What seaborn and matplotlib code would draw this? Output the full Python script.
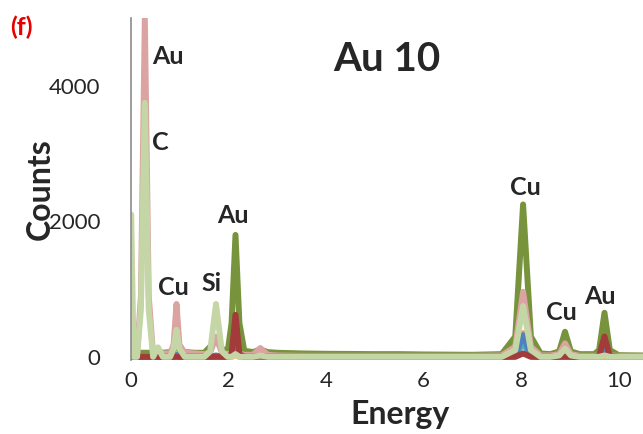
import pandas as pd
import seaborn as sns
import matplotlib.pyplot as plt

# Energy grid (keV) shared by all spectra
energy = [0, 0.05, 0.12, 0.2, 0.28, 0.36, 0.45, 0.55, 0.65, 0.8,
          0.87, 0.93, 0.99, 1.1, 1.3, 1.5, 1.62, 1.74, 1.86, 1.98,
          2.06, 2.14, 2.22, 2.32, 2.5, 2.65, 2.8, 3.0, 3.5, 4.0,
          5.0, 5.5, 6.0, 7.0, 7.6, 7.88, 8.04, 8.2, 8.4, 8.6,
          8.78, 8.9, 9.02, 9.2, 9.5, 9.6, 9.71, 9.82, 10.0, 10.5]

# Counts, one list per spectrum
dark_green = [0, 0, 20, 60, 60, 60, 60, 80, 60, 70,
              100, 200, 100, 70, 60, 60, 150, 250, 120, 80,
              500, 1800, 500, 90, 70, 110, 70, 60, 50, 45,
              40, 40, 35, 30, 40, 300, 2250, 300, 50, 40,
              80, 370, 80, 40, 40, 100, 650, 100, 25, 20]
pink = [0, 0, 20, 900, 5000, 900, 40, 90, 50, 50,
        180, 780, 180, 60, 50, 40, 60, 300, 60, 40,
        50, 150, 50, 30, 30, 130, 30, 20, 15, 15,
        15, 15, 15, 15, 20, 150, 960, 150, 20, 20,
        40, 200, 40, 15, 15, 20, 100, 20, 15, 15]
light_green = [2100, 0, 0, 700, 3750, 700, 0, 140, 0, 0,
               120, 400, 120, 0, 0, 0, 80, 780, 80, 0,
               0, 40, 0, 0, 0, 20, 0, 0, 0, 0,
               0, 0, 0, 0, 0, 100, 750, 100, 0, 0,
               20, 120, 20, 0, 0, 0, 20, 0, 0, 0]
dark_red = [0, 0, 0, 0, 0, 0, 0, 0, 0, 0,
            0, 0, 0, 0, 0, 0, 0, 0, 0, 0,
            40, 620, 40, 0, 0, 10, 0, 0, 0, 0,
            0, 0, 0, 0, 0, 0, 50, 0, 0, 0,
            0, 0, 0, 0, 0, 10, 300, 10, 0, 0]
blue = [0, 0, 0, 0, 0, 0, 0, 0, 0, 0,
        0, 30, 0, 0, 0, 0, 0, 20, 0, 0,
        20, 200, 20, 0, 0, 10, 0, 0, 0, 0,
        0, 0, 0, 0, 0, 20, 320, 20, 0, 0,
        0, 50, 0, 0, 0, 0, 80, 0, 0, 0]
light_blue = [0, 0, 0, 0, 0, 0, 0, 0, 0, 0,
              0, 30, 0, 0, 0, 0, 0, 10, 0, 0,
              10, 100, 10, 0, 0, 0, 0, 0, 0, 0,
              0, 0, 0, 0, 0, 10, 200, 10, 0, 0,
              0, 30, 0, 0, 0, 0, 40, 0, 0, 0]
orange = [0, 0, 0, 0, 0, 0, 0, 0, 0, 0,
          0, 0, 0, 0, 0, 0, 0, 0, 0, 0,
          0, 30, 0, 0, 0, 0, 0, 0, 0, 0,
          0, 0, 0, 0, 0, 10, 350, 10, 0, 0,
          0, 0, 0, 0, 0, 0, 0, 0, 0, 0]

# drawing order: back to front
series = {
    "dark_green": (dark_green, "#77933C"),
    "pink": (pink, "#DBA3A1"),
    "orange": (orange, "#F79646"),
    "light_blue": (light_blue, "#4BACC6"),
    "blue": (blue, "#4F81BD"),
    "dark_red": (dark_red, "#A33B3A"),
    "light_green": (light_green, "#C5D6A6"),
}

# Peak labels: text, energy, counts
peak_text = ["Au", "C", "Cu", "Si", "Au", "Cu", "Cu", "Au"]
peak_x = [0.76, 0.6, 0.86, 1.64, 2.09, 8.09, 8.83, 9.61]
peak_y = [4430, 3160, 1030, 1090, 2080, 2500, 650, 890]

rows = []
for name, (vals, _) in series.items():
    for e, c in zip(energy, vals):
        rows.append({"Energy": e, "Counts": c, "series": name})
df = pd.DataFrame(rows)

sns.set_style("white")
plt.rcParams["font.family"] = ["Lato", "DejaVu Sans"]

fig = plt.figure(figsize=(6.43, 4.34), dpi=100)
ax = fig.add_axes([0.204, 0.17, 0.796, 0.788])

for name, (_, col) in series.items():
    sns.lineplot(data=df[df["series"] == name], x="Energy", y="Counts",
                 color=col, linewidth=4.3, sort=False, ax=ax,
                 solid_joinstyle="round", solid_capstyle="round")

for t, x, y in zip(peak_text, peak_x, peak_y):
    ax.text(x, y, t, fontsize=18, fontweight="bold", ha="center", va="center")

ax.set_xlim(0, 10.5)
ax.set_ylim(-50, 5000)
ax.set_xticks([0, 2, 4, 6, 8, 10])
ax.set_yticks([0, 2000, 4000])
ax.tick_params(axis="both", labelsize=16, length=0, pad=8)
ax.tick_params(axis="y", pad=22)

for s in ["top", "right", "bottom"]:
    ax.spines[s].set_visible(False)
ax.spines["left"].set_color("#8C8C8C")
ax.spines["left"].set_linewidth(1.2)

ax.set_xlabel("Energy", fontsize=23, fontweight="bold")
ax.set_ylabel("Counts", fontsize=23, fontweight="bold")
ax.xaxis.set_label_coords(0.525, -0.115)
ax.yaxis.set_label_coords(-0.15, 0.5)

ax.text(0.5, 0.88, "Au 10", transform=ax.transAxes, fontsize=29,
        fontweight="bold", ha="center", va="center")
fig.text(0.015, 0.92, "(f)", color="#E60000", fontsize=18, fontweight="bold")

fig.savefig("out.png", dpi=100)
